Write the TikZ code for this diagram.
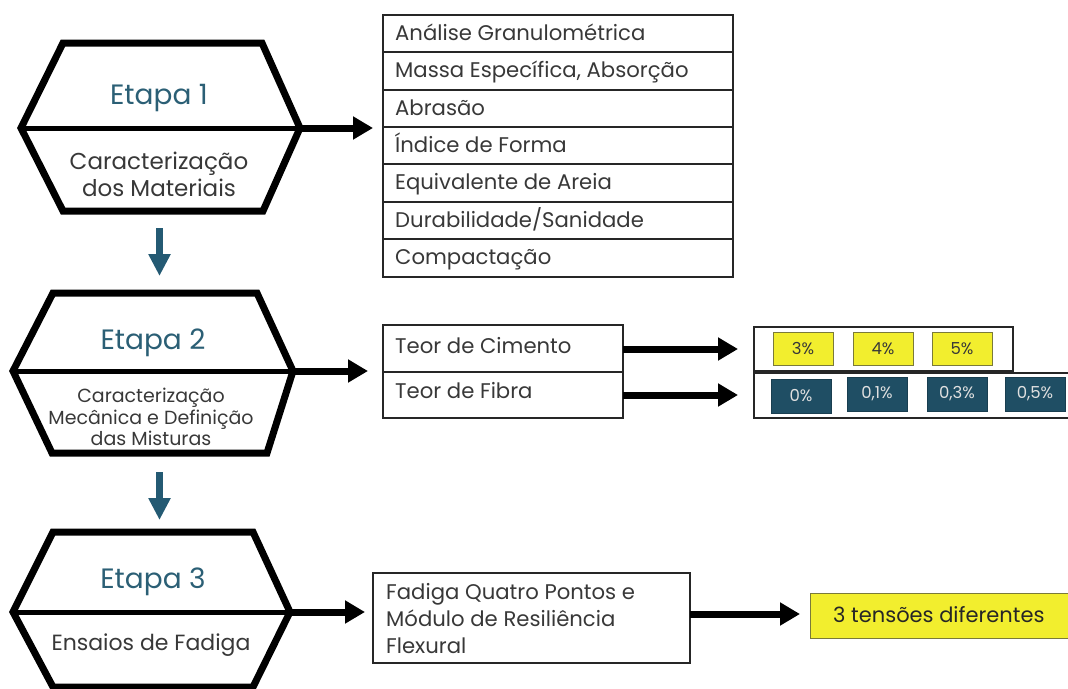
\documentclass[tikz,border=0pt]{standalone}
\usepackage{fontspec}
\setmainfont{Poppins}
\usetikzlibrary{arrows.meta}
\definecolor{teal}{HTML}{2B5F75}
\definecolor{txt}{HTML}{383838}
\definecolor{yel}{HTML}{F2EE2E}
\definecolor{yelb}{HTML}{7A7A3A}
\definecolor{dk}{HTML}{1F4E64}
\definecolor{blu}{HTML}{245A73}
\tikzset{
  hexa/.style={line width=7pt, line join=miter},
  midline/.style={line width=5pt},
  bigarrow/.style={line width=7pt, -{Triangle[length=20pt,width=22pt]}},
  downarrow/.style={blu, line width=7pt, -{Triangle[length=22pt,width=21pt]}},
  etapa/.style={text=teal, font=\fontsize{28}{30}\selectfont, inner sep=0pt},
  sub/.style={text=txt, font=\fontsize{23}{27}\selectfont, align=center, inner sep=0pt},
  subsm/.style={text=txt, font=\fontsize{19}{21.5}\selectfont, align=center, inner sep=0pt},
  cell/.style={draw=black!85, line width=1.2pt},
  celltext/.style={text=txt, font=\fontsize{21.2}{27}\selectfont, anchor=base west, inner sep=0pt},
  ybox/.style={draw=yelb, fill=yel, line width=1pt, minimum width=60pt, minimum height=33pt, inner sep=0pt, text=txt, font=\fontsize{16.5}{18}\selectfont},
  dbox/.style={draw=dk!80!black, fill=dk, line width=1pt, minimum width=60pt, minimum height=34pt, inner sep=0pt, text=white!88!black, font=\fontsize{16.5}{18}\selectfont},
}
\begin{document}
\begin{tikzpicture}[x=1pt,y=-1pt]
\useasboundingbox (0,0) rectangle (1068,688);
% ---------- hexagons
\draw[hexa] (63,43) -- (262,43) -- (300,128) -- (263,211) -- (63,211) -- (21,128) -- cycle;
\coordinate (h1l) at (21,128); \coordinate (h1r) at (300,128);
\draw[midline] (h1l) -- (h1r);
\draw[hexa] (53,293) -- (257,293) -- (293,371) -- (267,453) -- (52,453) -- (13,371) -- cycle;
\coordinate (h2l) at (13,371); \coordinate (h2r) at (293,371);
\draw[midline] (h2l) -- (h2r);
\draw[hexa] (53,532) -- (253,532) -- (290,612) -- (253,687) -- (53,687) -- (13,612) -- cycle;
\coordinate (h3l) at (13,612); \coordinate (h3r) at (290,612);
\draw[midline] (h3l) -- (h3r);
% texts
\node[etapa] (e1) at (159,98) {Etapa 1};
\node[sub] (s1) at (159,174) {Caracterização\\dos Materiais};
\node[etapa] (e2) at (153,343) {Etapa 2};
\node[subsm] (s2) at (151,417) {Caracterização\\Mecânica e Definição\\das Misturas};
\node[etapa] (e3) at (153,582) {Etapa 3};
\node[sub, font=\fontsize{22}{27}\selectfont] (s3) at (151,645) {Ensaios de Fadiga};
% down arrows
\coordinate (d1a) at (159.5,228); \coordinate (d1b) at (159.5,276);
\draw[downarrow] (d1a) -- (d1b);
\coordinate (d2a) at (159.5,472); \coordinate (d2b) at (159.5,520);
\draw[downarrow] (d2a) -- (d2b);
% ---------- table 1
\foreach \ya/\yb/\t [count=\i] in {15/52/{Análise Granulométrica},52/90/{Massa Específica, Absorção},90/127/{Abrasão},127/164/{Índice de Forma},164/202/{Equivalente de Areia},202/239/{Durabilidade/Sanidade},239/277/{Compactação}}{
  \draw[cell] (383,\ya) rectangle (733,\yb);
  \node[celltext] (r\i) at (395,{\ya+25}) {\t};
}
\coordinate (t1w) at (373,128);
\draw[bigarrow] (h1r) -- (t1w);
% ---------- teor box
\draw[cell] (383,325) rectangle (623,372);
\draw[cell] (383,372) rectangle (623,418);
\node[celltext] (tc) at (395,353) {Teor de Cimento};
\node[celltext] (tf) at (395,398) {Teor de Fibra};
\coordinate (t2w) at (368,371);
\draw[bigarrow] (h2r) -- (t2w);
\coordinate (tcr) at (623,349); \coordinate (tce) at (738,349);
\coordinate (tfr) at (623,395); \coordinate (tfe) at (738,395);
\draw[bigarrow] (tcr) -- (tce);
\draw[bigarrow] (tfr) -- (tfe);
% percent boxes
\draw[cell] (754,327) rectangle (1013,371);
\draw[cell] (754,373) rectangle (1075,418);
\node[ybox] (p3) at (803,348.5) {3\%};
\node[ybox] (p4) at (883,348.5) {4\%};
\node[ybox] (p5) at (962,348.5) {5\%};
\node[dbox] (f0) at (801,396) {0\%};
\node[dbox] (f1) at (877,394) {0,1\%};
\node[dbox] (f3) at (957,394) {0,3\%};
\node[dbox] (f5) at (1035,394) {0,5\%};
% ---------- etapa 3
\node[cell, minimum width=317pt, minimum height=90pt, inner sep=0pt] (fad) at (531.5,618) {};
\node[celltext, align=left, anchor=north west, font=\fontsize{21.2}{27}\selectfont] (fadt) at (386,583) {Fadiga Quatro Pontos e\\Módulo de Resiliência\\Flexural};
\coordinate (t3w) at (365,612);
\draw[bigarrow] (h3r) -- (t3w);
\node[draw=yelb, fill=yel, line width=1pt, minimum width=270pt, minimum height=45pt, inner sep=0pt] (ten) at (945,615.5) {};
\node[celltext, font=\fontsize{21}{26}\selectfont, text=black!85] (tent) at (833,622) {3 tensões diferentes};
\coordinate (fade) at (690,614); \coordinate (tenw) at (800,614);
\draw[bigarrow] (fade) -- (tenw);
\end{tikzpicture}
\end{document}
